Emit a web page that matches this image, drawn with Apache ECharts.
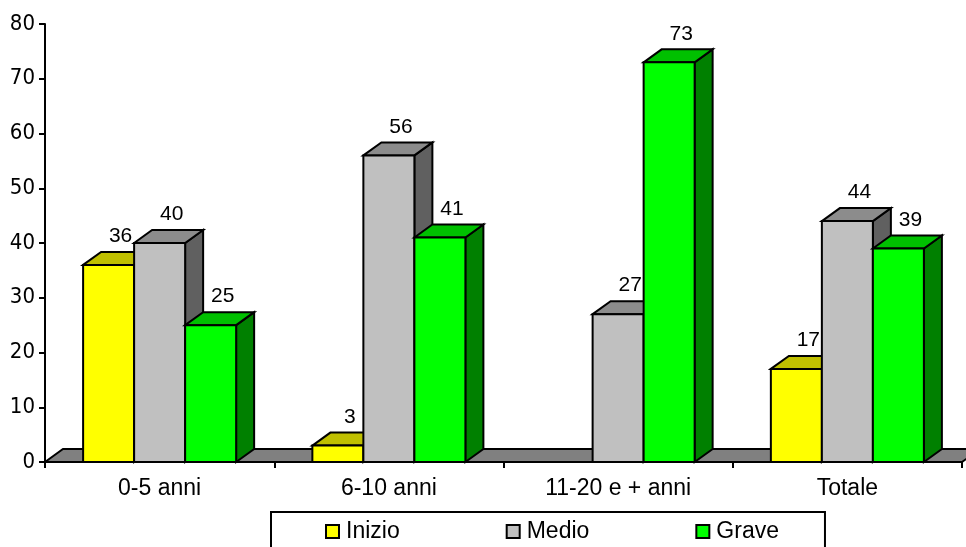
<!DOCTYPE html>
<html>
<head>
<meta charset="utf-8">
<script src="https://cdn.jsdelivr.net/npm/echarts@6/dist/echarts.min.js"></script>
<style>
  html, body { margin: 0; padding: 0; background: #fff; }
  #chart { width: 966px; height: 547px; }
</style>
</head>
<body>
<div id="chart"></div>
<script>
// Age bands and the share of cases at each stage
const categories = ['0-5 anni', '6-10 anni', '11-20 e + anni', 'Totale'];
const seriesNames = ['Inizio', 'Medio', 'Grave'];
const inizio = [36, 3, null, 17];
const medio = [40, 56, 27, 44];
const grave = [25, 41, 73, 39];
const yMin = 0, yMax = 80, yStep = 10;

// Pseudo-3D look: how far the back face is shifted from the front face
const DX = 18, DY = -13;
const BAR_RATIO = 0.2225;
const faces = {
  Inizio: { front: '#FFFF00', top: '#C0C000', side: '#808000' },
  Medio:  { front: '#C0C0C0', top: '#8C8C8C', side: '#606060' },
  Grave:  { front: '#00FF00', top: '#00C000', side: '#008000' }
};
const edge = { stroke: '#000', lineWidth: 2, lineJoin: 'miter' };

function barRenderer(slot, colors) {
  return function (params, api) {
    const v = api.value(1);
    if (v == null || isNaN(v)) return;
    const cat = api.value(0);
    const base = api.coord([cat, 0]);
    const top = api.coord([cat, v]);
    const band = api.size([1, 0])[0];
    const w = band * BAR_RATIO;
    const x0 = base[0] + (slot - 1.5) * w;
    const x1 = x0 + w;
    const y0 = base[1], y1 = top[1];
    return {
      type: 'group',
      children: [
        { type: 'polygon', shape: { points: [[x1, y0], [x1 + DX, y0 + DY], [x1 + DX, y1 + DY], [x1, y1]] },
          style: Object.assign({ fill: colors.side }, edge) },
        { type: 'polygon', shape: { points: [[x0, y1], [x0 + DX, y1 + DY], [x1 + DX, y1 + DY], [x1, y1]] },
          style: Object.assign({ fill: colors.top }, edge) },
        { type: 'rect', shape: { x: x0, y: y1, width: w, height: y0 - y1 },
          style: Object.assign({ fill: colors.front }, edge) },
        { type: 'text', x: (x0 + x1) / 2 + 12, y: y1 + DY - 5,
          style: { text: String(v), fill: '#000', font: '21px "Liberation Sans", Arial, sans-serif',
                   align: 'center', verticalAlign: 'bottom', textAlign: 'center', textVerticalAlign: 'bottom' } }
      ]
    };
  };
}

// Grey floor slab under the plot
function floorRenderer(params, api) {
  const cs = params.coordSys;
  const yb = cs.y + cs.height;
  return {
    type: 'polygon',
    shape: { points: [[cs.x, yb], [cs.x + DX, yb + DY], [cs.x + cs.width + DX, yb + DY], [cs.x + cs.width, yb]] },
    style: Object.assign({ fill: '#808080' }, edge)
  };
}

const seriesValues = [inizio, medio, grave];
const barSeries = seriesNames.map((name, i) => ({
  name: name,
  type: 'custom',
  renderItem: barRenderer(i, faces[name]),
  itemStyle: { color: faces[name].front },
  encode: { x: 0, y: 1 },
  data: seriesValues[i].map((v, k) => [k, v]),
  clip: false,
  z: 3
}));

const chart = echarts.init(document.getElementById('chart'), null, { renderer: 'canvas' });
chart.setOption({
  animation: false,
  backgroundColor: '#fff',
  grid: { left: 45, top: 24, right: 4, bottom: 85, containLabel: false },
  legend: {
    data: seriesNames,
    left: 271, top: 512,
    orient: 'horizontal',
    icon: 'rect',
    itemWidth: 13, itemHeight: 13,
    itemGap: 106,
    padding: [8, 46, 30, 54],
    borderColor: '#000', borderWidth: 2,
    itemStyle: { borderColor: '#000', borderWidth: 2 },
    textStyle: { color: '#000', fontSize: 23, fontFamily: '"Liberation Sans", Arial, sans-serif', padding: [0, 0, 0, 2] },
    selectedMode: false
  },
  xAxis: {
    type: 'category',
    data: categories,
    boundaryGap: true,
    axisLine: { show: true, lineStyle: { color: '#000', width: 2 } },
    axisTick: { show: true, length: 6, alignWithLabel: false, lineStyle: { color: '#000', width: 2 } },
    axisLabel: { color: '#000', fontSize: 23, fontFamily: '"Liberation Sans", Arial, sans-serif', margin: 15, interval: 0 },
    splitLine: { show: false }
  },
  yAxis: {
    type: 'value',
    min: yMin, max: yMax, interval: yStep,
    axisLine: { show: true, lineStyle: { color: '#000', width: 2 } },
    axisTick: { show: true, length: 6, lineStyle: { color: '#000', width: 2 } },
    axisLabel: { color: '#000', fontSize: 22, fontFamily: '"DejaVu Sans Condensed", "DejaVu Sans", sans-serif', margin: 10 },
    splitLine: { show: false }
  },
  series: [
    {
      name: 'floor',
      type: 'custom',
      renderItem: floorRenderer,
      data: [[0, 0]],
      encode: { x: 0, y: 1 },
      clip: false,
      silent: true,
      z: 1
    }
  ].concat(barSeries)
});
</script>
</body>
</html>
